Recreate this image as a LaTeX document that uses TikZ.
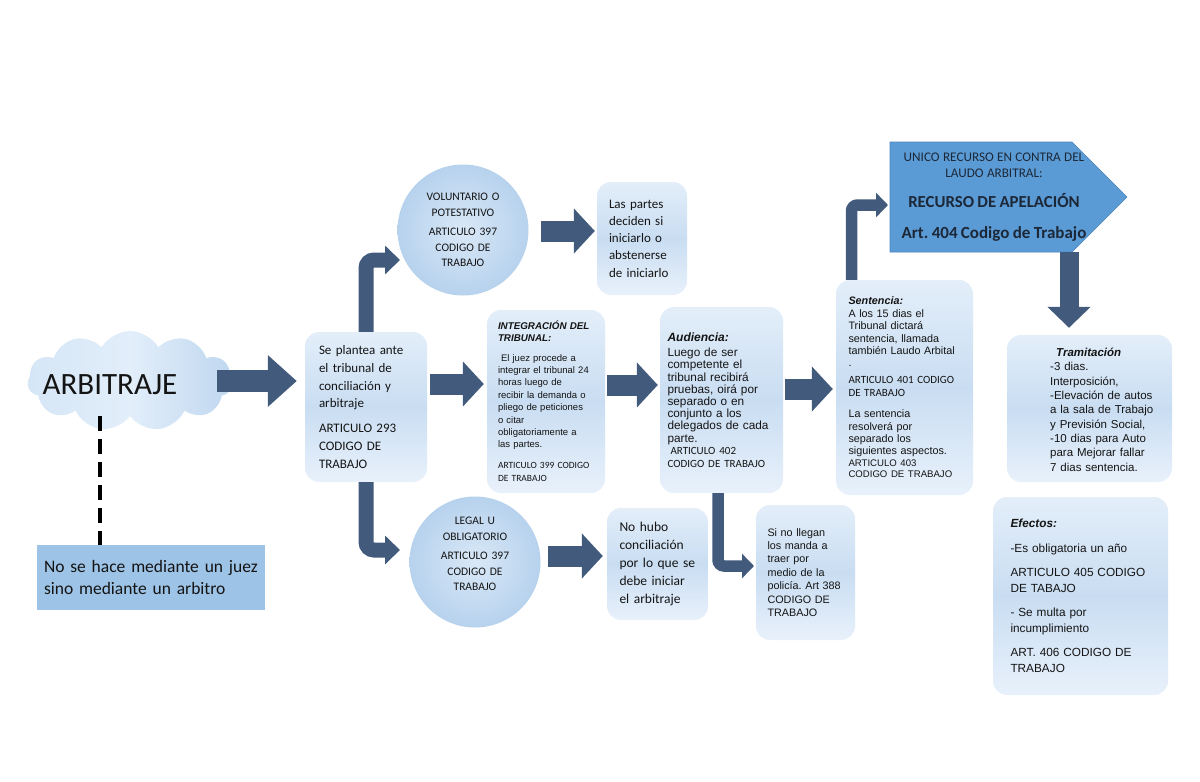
\documentclass[tikz,border=0pt]{standalone}
\usepackage{fontspec}
\setmainfont{Carlito}
\newfontfamily\arial{Liberation Sans}
\usetikzlibrary{arrows.meta,shapes.symbols}
\definecolor{arrowc}{HTML}{425B7D}
\definecolor{boxtop}{HTML}{E3EEF9}
\definecolor{boxmid}{HTML}{C9DDF2}
\definecolor{boxbot}{HTML}{E8F1FB}
\definecolor{circin}{HTML}{D9E8F7}
\definecolor{circout}{HTML}{B7D2ED}
\definecolor{cloudL}{HTML}{D5E6F6}
\definecolor{cloudM}{HTML}{E2EEFA}
\definecolor{cloudR}{HTML}{BFD7EF}
\definecolor{noseblue}{HTML}{9DC3E6}
\definecolor{pentblue}{HTML}{5B9BD5}
\definecolor{pentedge}{HTML}{4A86C0}
\definecolor{penttxt}{HTML}{1C2838}
\definecolor{txt}{HTML}{141414}
\newcommand{\fs}[2]{\fontsize{#1}{#2}\selectfont}
\frenchspacing
\begin{document}
\frenchspacing
\begin{tikzpicture}[x=1pt,y=-1pt,
  every node/.append style={execute at begin node=\frenchspacing},
  box/.style={rounded corners=14pt, top color=boxtop, bottom color=boxbot, middle color=boxmid, inner sep=0pt, align=left, text=txt},
  circ/.style={circle, inner color=circin, outer color=circout, minimum size=131pt, inner sep=0pt, align=center, text width=92pt, text=txt},
  barrow/.style={draw=arrowc, line width=21pt, -{Triangle[width=44pt,length=21pt]}},
  bigarrow/.style={draw=arrowc, line width=22pt, -{Triangle[width=50pt,length=29pt]}},
  downarr/.style={draw=arrowc, line width=19pt, -{Triangle[width=42pt,length=21pt]}},
  bentA/.style={draw=arrowc, line width=15pt, rounded corners=8pt, -{Triangle[width=28pt,length=15pt]}},
  bentB/.style={draw=arrowc, line width=11.5pt, rounded corners=6pt, -{Triangle[width=24pt,length=12pt]}},
  dashline/.style={draw=black, line width=4.5pt, dash pattern=on 15pt off 8pt},
]
\fill[white] (0,0) rectangle (1200,782);
\useasboundingbox (0,0) rectangle (1200,782);

% cloud and note
\node[cloud, cloud puffs=11, cloud puff arc=120, aspect=2.05, minimum width=205pt, minimum height=100pt, inner sep=0pt, left color=cloudL, right color=cloudR, middle color=cloudM] (cloud) at (130,381) {};
\node[text=txt, inner sep=0pt, font={\fs{31}{36}}] (arbt) at (110,385) {ARBITRAJE};
\node[fill=noseblue, minimum width=228pt, minimum height=65pt, inner sep=0pt, text width=214pt, align=left, text=txt, font={\fs{17.5}{21.5}}] (nose) at (151,577.5) {No se hace mediante un juez\\sino mediante un arbitro};

% main boxes
\node[box, minimum width=122pt, minimum height=150pt, text width=94pt, font={\fs{13}{17.8}}] (plantea) at (366,407) {Se plantea ante\\el tribunal de\\conciliación y\\arbitraje\\[7pt]ARTICULO 293\\CODIGO DE\\TRABAJO};

\node[circ, font={\fs{11.5}{15.6}}] (vol) at (463,230) {VOLUNTARIO O\\POTESTATIVO\\[4pt]ARTICULO 397\\CODIGO DE\\TRABAJO};

\node[circ, font={\fs{11.5}{15.6}}] (legal) at (475,562) {LEGAL U\\OBLIGATORIO\\[4pt]ARTICULO 397\\CODIGO DE\\TRABAJO\par\vspace{16pt}};

\node[box, minimum width=90pt, minimum height=113pt, text width=66pt, font={\fs{13}{17.2}}] (partes) at (642,238.5) {Las partes\\deciden si\\iniciarlo o\\abstenerse\\de iniciarlo};

\node[box, minimum width=118pt, minimum height=183pt, text width=96pt, font={\arial\fs{9.5}{12.4}}] (integ) at (546,401.5) {{\bfseries\itshape\fs{9.8}{12}INTEGRACIÓN DEL\\TRIBUNAL:\par}\vspace{7pt}\hspace*{3pt}El juez procede a\\integrar el tribunal 24\\horas luego de\\recibir la demanda o\\pliego de peticiones\\o citar\\obligatoriamente a\\las partes.\par\vspace{8pt}{\rmfamily\fs{9.5}{13}ARTICULO 399 CODIGO\\DE TRABAJO\par}};

\node[box, minimum width=123pt, minimum height=186pt, text width=108pt, font={\arial\fs{11.8}{12.2}}] (audi) at (721.5,400) {{\bfseries\itshape\fs{12}{13}Audiencia:\par}\vspace{3pt}Luego de ser\\competente el\\tribunal recibirá\\pruebas, oirá por\\separado o en\\conjunto a los\\delegados de cada\\parte.\par{\rmfamily\fs{11}{12.5}\hspace*{3pt}ARTICULO 402\\CODIGO DE TRABAJO\par}};

\node[box, minimum width=137pt, minimum height=215pt, text width=112pt, font={\arial\fs{10.8}{12.4}}] (sent) at (904.5,387.5) {{\bfseries\itshape Sentencia:}\\A los 15 dias el\\Tribunal dictará\\sentencia, llamada\\también Laudo Arbital\\.\par\vspace{3pt}{\rmfamily\fs{11}{13.2}ARTICULO 401 CODIGO\\DE TRABAJO\par}\vspace{9pt}La sentencia\\resolverá por\\separado los\\siguientes aspectos.\par{\fs{9.6}{11.5}ARTICULO 403\\CODIGO DE TRABAJO\par}};

\node[box, minimum width=101pt, minimum height=112pt, text width=76pt, font={\fs{13.5}{18}}] (nohubo) at (657.5,564) {No hubo\\conciliación\\por lo que se\\debe iniciar\\el arbitraje};

\node[box, minimum width=99pt, minimum height=135pt, text width=76pt, font={\arial\fs{10.8}{13.4}}] (policia) at (805.5,572.5) {Si no llegan\\los manda a\\traer por\\medio de la\\policía. Art 388\\CODIGO DE\\TRABAJO};

% appeal
\node[signal, signal to=east, signal pointer angle=90, minimum width=237pt, minimum height=110pt, inner sep=0pt, fill=pentblue, draw=pentedge, line width=0.6pt] (recurso) at (981,197) {};
\node[align=center, text width=200pt, inner sep=0pt, text=penttxt] (recursoTxt) at (994,197) {{\fs{13.2}{16.5}UNICO RECURSO EN CONTRA DEL\\LAUDO ARBITRAL:\par}\vspace{10pt}{\bfseries\fs{16.8}{20}RECURSO DE APELACIÓN\par}\vspace{11pt}{\bfseries\fs{17}{20}Art. 404 Codigo de Trabajo\par}};

\node[box, minimum width=165pt, minimum height=147pt] (tramit) at (1089.5,408.5) {};
\node[anchor=north west, inner sep=0pt, text width=112pt, align=left, text=txt, font={\arial\fs{11.5}{14.3}}] (tramitTxt) at (1050,348) {\hspace*{6pt}{\bfseries\itshape Tramitación}\\-3 dias.\\Interposición,\\-Elevación de autos\\a la sala de Trabajo\\y Previsión Social,\\-10 dias para Auto\\para Mejorar fallar\\7 dias sentencia.};

\node[box, minimum width=175pt, minimum height=198pt, text width=140pt, font={\arial\fs{11.8}{15.5}}] (efectos) at (1080.5,596) {{\bfseries\itshape Efectos:}\\[9pt]-Es obligatoria un año\\[9pt]ARTICULO 405 CODIGO\\DE TABAJO\\[9pt]- Se multa por\\incumplimiento\\[9pt]ART. 406 CODIGO DE\\TRABAJO};

% tip coordinates
\coordinate (upTip) at (400,260);
\coordinate (downTip) at (400,550);
\coordinate (apelTip) at (888,205);
\coordinate (polTip) at (754,566);

% connectors
\draw[dashline] ([xshift=-30pt]cloud.south) -- ([xshift=-30pt]cloud.south |- nose.north);
\draw[bigarrow] ([xshift=-15pt]cloud.east) -- ([xshift=-8pt]cloud.east -| plantea.west);
\draw[bentA] (plantea.north) |- (upTip);
\draw[bentA] (plantea.south) |- (downTip);
\draw[barrow] ([xshift=3pt,yshift=23pt]plantea.east) -- ([xshift=-3pt,yshift=23pt]plantea.east -| integ.west);
\draw[barrow] ([xshift=12.5pt,yshift=-1pt]vol.east) -- ([xshift=-2pt,yshift=-1pt]vol.east -| partes.west);
\draw[barrow] ([xshift=7.5pt,yshift=6pt]legal.east) -- ([xshift=-4pt,yshift=6pt]legal.east -| nohubo.west);
\draw[barrow] ([xshift=2pt,yshift=16.5pt]integ.east) -- ([xshift=-2pt,yshift=16.5pt]integ.east -| audi.west);
\draw[barrow] ([xshift=2pt,yshift=11pt]audi.east) -- ([xshift=-3pt,yshift=11pt]audi.east -| sent.west);
\draw[bentB] ([xshift=-3.5pt]audi.south) |- (polTip);
\draw[bentB] ([xshift=-53pt]sent.north) |- (apelTip);
\draw[downarr] ([xshift=88pt]recurso.south) -- ([xshift=88pt,yshift=7pt]recurso.south |- tramit.north);
\end{tikzpicture}
\end{document}
